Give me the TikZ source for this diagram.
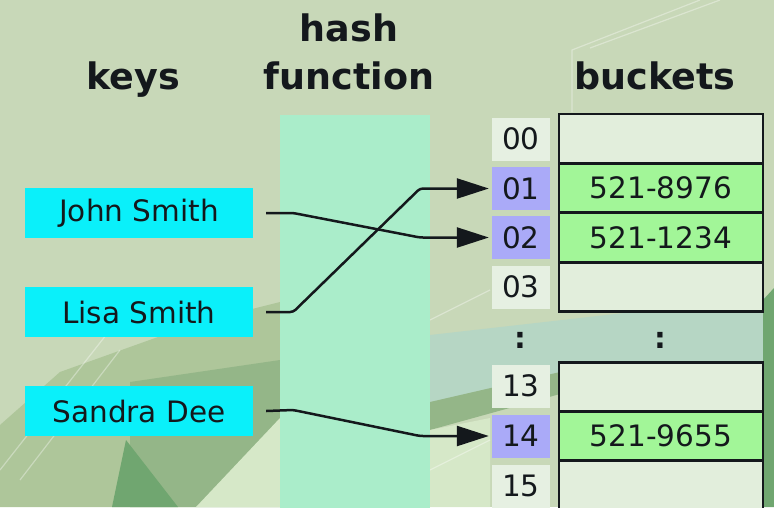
\documentclass[tikz,border=0pt]{standalone}
\usepackage{fontspec}
\setmainfont{DejaVu Sans}
\usetikzlibrary{arrows.meta}
\definecolor{bgbase}{RGB}{200,216,184}
\definecolor{bgmid}{RGB}{174,198,154}
\definecolor{bgdark}{RGB}{148,182,136}
\definecolor{bgdeep}{RGB}{112,166,112}
\definecolor{bgpale}{RGB}{214,232,200}
\definecolor{bgteal}{RGB}{182,214,196}
\definecolor{hashfill}{RGB}{170,237,202}
\definecolor{keyfill}{RGB}{10,240,250}
\definecolor{idxfill}{RGB}{230,240,226}
\definecolor{idxhit}{RGB}{170,170,248}
\definecolor{bktempty}{RGB}{226,238,220}
\definecolor{bktfull}{RGB}{162,246,152}
\definecolor{ink}{RGB}{20,24,28}
\tikzset{
  title/.style={font=\fontsize{36.5}{40}\selectfont\bfseries, text=ink, anchor=base, inner sep=0pt},
  keybox/.style={fill=keyfill, minimum width=228pt, minimum height=50pt, inner sep=0pt,
     font=\fontsize{29.5}{34}\selectfont, text=ink},
  idx/.style={fill=idxfill, minimum width=58pt, minimum height=43pt, inner sep=0pt,
     font=\fontsize{29.5}{34}\selectfont, text=ink},
  idxon/.style={idx, fill=idxhit},
  bkt/.style={draw=ink, line width=2.5pt, fill=bktempty, minimum width=204pt, minimum height=49pt,
     inner sep=0pt, font=\fontsize{29.5}{34}\selectfont, text=ink},
  bkton/.style={bkt, fill=bktfull},
  dots/.style={font=\fontsize{29.5}{34}\selectfont\bfseries, text=ink, inner sep=0pt},
  link/.style={draw=ink, line width=2.5pt, rounded corners=3pt,
     -{Triangle[length=32pt,width=20pt]}},
  streak/.style={draw=white, opacity=0.35, line width=1.2pt}
}
\begin{document}
\begin{tikzpicture}[x=1pt,y=-1pt]
\useasboundingbox (0,0) rectangle (774,507);
\clip (0,0) rectangle (774,507);
% background scene
\fill[bgbase] (0,0) rectangle (774,507);
\fill[bgmid] (0,425) -- (60,372) -- (200,322) -- (280,302) -- (280,507) -- (0,507) -- cycle;
\fill[bgdark] (130,382) -- (280,360) -- (280,507) -- (130,507) -- cycle;
\fill[bgdeep] (126,440) -- (178,507) -- (112,507) -- cycle;
\fill[bgpale] (196,507) -- (280,418) -- (280,507) -- cycle;
\fill[bgteal] (430,335) -- (774,296) -- (774,362) -- (430,402) -- cycle;
\fill[bgdark] (430,402) -- (560,372) -- (560,394) -- (430,430) -- cycle;
\fill[bgpale] (430,430) -- (490,418) -- (490,507) -- (430,507) -- cycle;
\fill[bgdeep] (763,300) -- (774,288) -- (774,507) -- (763,507) -- cycle;
\draw[streak] (572,112) -- (572,50) -- (700,0);
\draw[streak] (590,48) -- (720,0);
\draw[streak] (0,470) -- (110,330);
\draw[streak] (20,480) -- (120,350);
\draw[streak] (430,320) -- (490,290);
\draw[streak] (430,470) -- (490,440);
% headings
\node[title] (thash) at (349,41) {hash};
\node[title] (tfunc) at (349,89) {function};
\node[title] (tkeys) at (133,89) {keys};
\node[title] (tbkt) at (655,89) {buckets};
% hash function column
\fill[hashfill] (280,115) rectangle (430,510);
% keys
\node[keybox] (john) at (139,213) {John Smith};
\node[keybox] (lisa) at (139,312) {Lisa Smith};
\node[keybox] (sandra) at (139,411) {Sandra Dee};
% index cells
\node[idx]   (i00) at (521,139) {00};
\node[idxon] (i01) at (521,188.5) {01};
\node[idxon] (i02) at (521,237.5) {02};
\node[idx]   (i03) at (521,287) {03};
\node[idx]   (i13) at (521,386) {13};
\node[idxon] (i14) at (521,436) {14};
\node[idx]   (i15) at (521,486) {15};
% buckets
\node[bkt]   (b00) at (661,138.5) {};
\node[bkton] (b01) at (661,188) {521-8976};
\node[bkton] (b02) at (661,237.5) {521-1234};
\node[bkt]   (b03) at (661,287) {};
\node[bkt]   (b13) at (661,387) {};
\node[bkton] (b14) at (661,436) {521-9655};
\node[bkt]   (b15) at (661,485) {};
\node[dots] (d1) at (520,340) {:};
\node[dots] (d2) at (660,340) {:};
% connectors
\draw[link] ([xshift=13pt]john.east) -- ++(27,0) -- (420,237.5) -- ([xshift=-3pt]i02.west);
\draw[link] ([xshift=13pt]lisa.east) -- ++(27,0) -- (420,188.5) -- ([xshift=-3pt]i01.west);
\draw[link] ([xshift=13pt]sandra.east) -- ++(27,-1) -- (420,436) -- ([xshift=-3pt]i14.west);
\end{tikzpicture}
\end{document}
